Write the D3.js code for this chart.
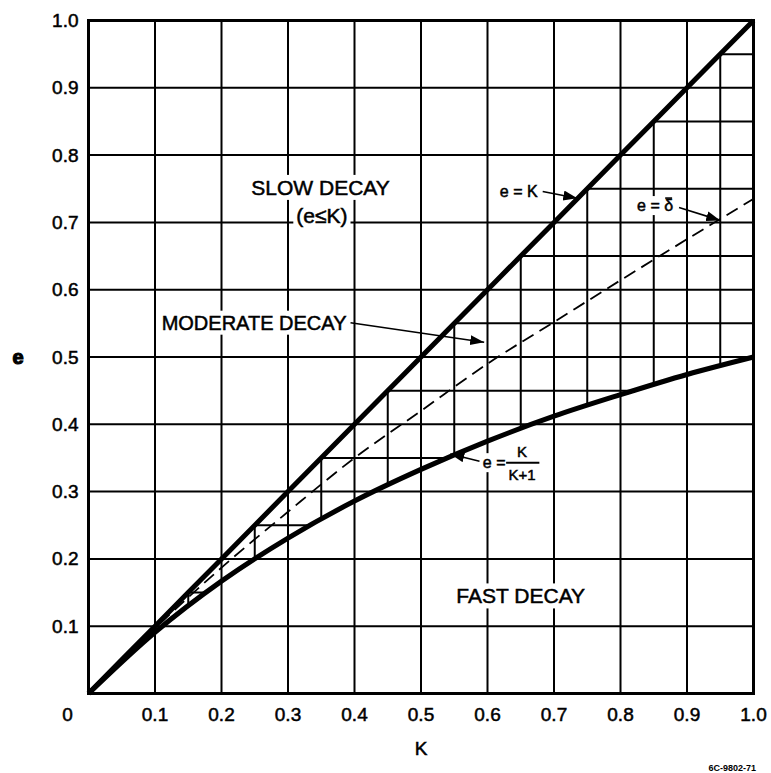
<!DOCTYPE html>
<html>
<head>
<meta charset="utf-8">
<script src="https://cdn.jsdelivr.net/npm/d3@7"></script>
<style>
  body { margin: 0; background: #fff; }
  text { font-family: "Liberation Sans", Arial, sans-serif; fill: #000; }
</style>
</head>
<body>
<svg id="chart" width="771" height="773"></svg>
<script>
// values
const kPoints = [0, 0.1, 0.2, 0.3, 0.4, 0.5, 0.6, 0.7, 0.8, 0.9, 1.0];
const slowEdge = [0, 0.1, 0.2, 0.3, 0.4, 0.5, 0.6, 0.7, 0.8, 0.9, 1.0];            // e = K
const deltaBar = [0, 0.097, 0.187, 0.27, 0.35, 0.42, 0.49, 0.552, 0.614, 0.675, 0.735]; // e = delta bar
const fastEdge = [0, 0.091, 0.167, 0.231, 0.286, 0.333, 0.375, 0.412, 0.444, 0.474, 0.5]; // e = K/(K+1)

const majorGrid = [0.1, 0.2, 0.3, 0.4, 0.5, 0.6, 0.7, 0.8, 0.9];
const fineGrid = [0.05, 0.15, 0.25, 0.35, 0.45, 0.55, 0.65, 0.75, 0.85, 0.95];
const xTicks = [0.1, 0.2, 0.3, 0.4, 0.5, 0.6, 0.7, 0.8, 0.9, 1.0];
const xTickLabels = ["0.1", "0.2", "0.3", "0.4", "0.5", "0.6", "0.7", "0.8", "0.9", "1.0"];
const yTicks = [0.1, 0.2, 0.3, 0.4, 0.5, 0.6, 0.7, 0.8, 0.9, 1.0];
const yTickLabels = ["0.1", "0.2", "0.3", "0.4", "0.5", "0.6", "0.7", "0.8", "0.9", "1.0"];

const svg = d3.select("#chart");
const x = d3.scaleLinear().domain([0, 1]).range([88.5, 753.5]);
const y = d3.scaleLinear().domain([0, 1]).range([693.5, 20.5]);

const rows = kPoints.map((k, i) => ({ k: k, up: slowEdge[i], mid: deltaBar[i], low: fastEdge[i] }));

const defs = svg.append("defs");
defs.append("clipPath").attr("id", "moderate")
  .append("path")
  .attr("d", d3.area().curve(d3.curveMonotoneX)
    .x(d => x(d.k)).y0(d => y(d.low)).y1(d => y(d.up))(rows));

defs.append("marker")
  .attr("id", "arrow")
  .attr("markerUnits", "userSpaceOnUse")
  .attr("markerWidth", 16).attr("markerHeight", 12)
  .attr("refX", 14).attr("refY", 5)
  .attr("orient", "auto")
  .append("path").attr("d", "M0,0 L14,5 L0,10 Z").attr("fill", "#000");

// fine grid only inside the moderate decay band
const fine = svg.append("g").attr("clip-path", "url(#moderate)")
  .attr("stroke", "#000").attr("stroke-width", 2);
fine.selectAll(".fv").data(fineGrid).enter().append("line")
  .attr("x1", d => x(d)).attr("x2", d => x(d))
  .attr("y1", y(0)).attr("y2", y(1));
fine.selectAll(".fh").data(fineGrid).enter().append("line")
  .attr("x1", x(0)).attr("x2", x(1))
  .attr("y1", d => y(d)).attr("y2", d => y(d));

const grid = svg.append("g").attr("stroke", "#000").attr("stroke-width", 2);
grid.selectAll(".gv").data(majorGrid).enter().append("line")
  .attr("x1", d => x(d)).attr("x2", d => x(d))
  .attr("y1", y(0)).attr("y2", y(1));
grid.selectAll(".gh").data(majorGrid).enter().append("line")
  .attr("x1", x(0)).attr("x2", x(1))
  .attr("y1", d => y(d)).attr("y2", d => y(d));

// text with white patch behind so grid breaks around it
function label(g, txt, px, py, size, anchor) {
  const t = g.append("text")
    .attr("x", px).attr("y", py)
    .attr("text-anchor", anchor || "middle")
    .attr("dominant-baseline", "central")
    .style("font-size", size + "px")
    .attr("stroke", "#000").attr("stroke-width", 0.5)
    .text(txt);
  const b = t.node().getBBox();
  g.insert("rect", "text")
    .attr("x", b.x - 3).attr("y", b.y - 1)
    .attr("width", b.width + 6).attr("height", b.height + 2)
    .attr("fill", "#fff");
  return t;
}

const lineGen = key => d3.line().curve(d3.curveMonotoneX).x(d => x(d.k)).y(d => y(d[key]));

svg.append("path").datum(rows).attr("d", lineGen("mid"))
  .attr("fill", "none").attr("stroke", "#000").attr("stroke-width", 1.8)
  .attr("stroke-dasharray", "13,7");

const ann = svg.append("g");
label(ann, "SLOW DECAY", x(0.349), y(0.752), 21);
label(ann, "(e\u2264K)", x(0.351), y(0.71), 21);
label(ann, "MODERATE DECAY", x(0.249), y(0.551), 20);
label(ann, "FAST DECAY", x(0.65), y(0.145), 21);
label(ann, "e = K", x(0.647), y(0.746), 16);
const dl = label(ann, "e = \u03B4", x(0.852), y(0.725), 16);
const dBox = dl.node().getExtentOfChar(4);
ann.append("line")
  .attr("x1", dBox.x + 1).attr("x2", dBox.x + dBox.width - 1)
  .attr("y1", dBox.y + 1).attr("y2", dBox.y + 1)
  .attr("stroke", "#000").attr("stroke-width", 1.6);
label(ann, "e =", x(0.61), y(0.343), 16);
label(ann, "K", x(0.652), y(0.36), 15);
label(ann, "K+1", x(0.652), y(0.326), 15);
ann.append("line")
  .attr("x1", x(0.628)).attr("x2", x(0.678))
  .attr("y1", y(0.343)).attr("y2", y(0.343))
  .attr("stroke", "#000").attr("stroke-width", 2);

svg.append("path").datum(rows).attr("d", lineGen("up"))
  .attr("fill", "none").attr("stroke", "#000").attr("stroke-width", 5);
svg.append("path").datum(rows).attr("d", lineGen("low"))
  .attr("fill", "none").attr("stroke", "#000").attr("stroke-width", 5);

// leader arrows
const arrows = [
  [0.394, 0.551, 0.595, 0.522],
  [0.683, 0.746, 0.735, 0.736],
  [0.888, 0.722, 0.95, 0.703],
  [0.588, 0.345, 0.544, 0.356]
];
svg.selectAll(".arrow").data(arrows).enter().append("line")
  .attr("x1", d => x(d[0])).attr("y1", d => y(d[1]))
  .attr("x2", d => x(d[2])).attr("y2", d => y(d[3]))
  .attr("stroke", "#000").attr("stroke-width", 1.6)
  .attr("marker-end", "url(#arrow)");

svg.append("rect")
  .attr("x", x(0)).attr("y", y(1))
  .attr("width", x(1) - x(0)).attr("height", y(0) - y(1))
  .attr("fill", "none").attr("stroke", "#000").attr("stroke-width", 3);

// axes labels
const tickFont = 19;
svg.selectAll(".xt").data(xTicks).enter().append("text")
  .attr("x", d => x(d)).attr("y", y(0) + 21)
  .attr("text-anchor", "middle").attr("dominant-baseline", "central")
  .attr("stroke", "#000").attr("stroke-width", 0.5)
  .style("font-size", tickFont + "px")
  .text((d, i) => xTickLabels[i]);
svg.append("text")
  .attr("x", x(0) - 21).attr("y", y(0) + 21)
  .attr("text-anchor", "middle").attr("dominant-baseline", "central")
  .attr("stroke", "#000").attr("stroke-width", 0.5)
  .style("font-size", tickFont + "px")
  .text("0");
svg.selectAll(".yt").data(yTicks).enter().append("text")
  .attr("x", x(0) - 10).attr("y", d => y(d))
  .attr("text-anchor", "end").attr("dominant-baseline", "central")
  .attr("stroke", "#000").attr("stroke-width", 0.5)
  .style("font-size", tickFont + "px")
  .text((d, i) => yTickLabels[i]);

svg.append("text")
  .attr("x", x(0.5)).attr("y", 748)
  .attr("text-anchor", "middle").attr("dominant-baseline", "central")
  .attr("stroke", "#000").attr("stroke-width", 0.5)
  .style("font-size", "19px").text("K");
svg.append("text")
  .attr("x", 18).attr("y", y(0.5))
  .attr("text-anchor", "middle").attr("dominant-baseline", "central")
  .attr("stroke", "#000").attr("stroke-width", 1.2)
  .style("font-size", "20px").style("font-weight", "bold").text("e");

svg.append("text")
  .attr("x", 756).attr("y", 768)
  .attr("text-anchor", "end").attr("dominant-baseline", "central")
  .style("font-size", "9px").style("font-weight", "bold")
  .text("6C-9802-71");
</script>
</body>
</html>
